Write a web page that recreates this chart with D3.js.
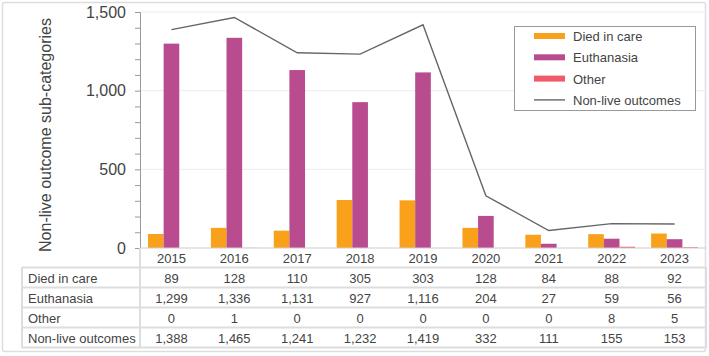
<!DOCTYPE html>
<html><head><meta charset="utf-8">
<script src="https://cdn.jsdelivr.net/npm/d3@7/dist/d3.min.js"></script>
<style>body{margin:0;background:#fff}svg text{font-family:"Liberation Sans",Arial,sans-serif !important}</style>
</head><body><svg id="c" width="709" height="356"></svg>
<script>
const years = ["2015","2016","2017","2018","2019","2020","2021","2022","2023"];
const diedInCare = [89,128,110,305,303,128,84,88,92];
const euthanasia = [1299,1336,1131,927,1116,204,27,59,56];
const other = [0,1,0,0,0,0,0,8,5];
const nonLive = [1388,1465,1241,1232,1419,332,111,155,153];
const yTicks = [0,500,1000,1500];
const seriesNames = ["Died in care","Euthanasia","Other"];
const colors = ["#F9A11B","#B84C8E","#EF5B6A"];
const lineColor = "#666666";
const FONT = "Liberation Sans, Arial, sans-serif";

const svg = d3.select("#c");
const fmt = d3.format(",");
svg.append("rect").attr("x",2.5).attr("y",2.5).attr("width",703).attr("height",349)
  .attr("fill","none").attr("stroke","#ddd").attr("stroke-width",1.5).attr("rx",2);

const x0 = 140, x1 = 706, yTop = 12, yBot = 248;
const x = d3.scaleBand().domain(years).range([x0,x1]).paddingInner(0).paddingOuter(0);
const inner = d3.scaleBand().domain(seriesNames).range([8, x.bandwidth()-8]).padding(0);
const y = d3.scaleLinear().domain([0,1500]).range([yBot,yTop]);

svg.append("g").selectAll("line").data(yTicks.filter(d=>d>0)).join("line")
  .attr("x1",x0).attr("x2",x1).attr("y1",d=>y(d)).attr("y2",d=>y(d))
  .attr("stroke","#ececec").attr("stroke-width",1);

const series = [diedInCare, euthanasia, other];
series.forEach((vals,i)=>{
  svg.append("g").selectAll("rect").data(vals).join("rect")
    .attr("x",(d,j)=>x(years[j])+inner(seriesNames[i]))
    .attr("width",inner.bandwidth())
    .attr("y",d=>y(d)).attr("height",d=>yBot-y(d))
    .attr("fill",colors[i]);
});

const line = d3.line().x((d,i)=>x(years[i])+x.bandwidth()/2).y(d=>y(d));
svg.append("path").datum(nonLive).attr("d",line).attr("fill","none")
  .attr("stroke",lineColor).attr("stroke-width",1.4);

const yAxis = d3.axisLeft(y).tickValues(d3.range(0,1501,100)).tickSize(5).tickFormat(d=> yTicks.includes(d)?fmt(d):"");
const ga = svg.append("g").attr("transform",`translate(${x0},0)`).call(yAxis);
ga.attr("font-family",FONT);
ga.select(".domain").attr("stroke","#999");
ga.selectAll(".tick line").attr("stroke","#999");
ga.selectAll(".tick text").attr("font-size",16).attr("fill","#444").attr("x",-14);
svg.append("line").attr("x1",x0).attr("x2",x1).attr("y1",yBot).attr("y2",yBot).attr("stroke","#ccc");

svg.append("text").attr("transform","translate(51,135) rotate(-90)").attr("text-anchor","middle")
  .attr("font-size",16).attr("fill","#444").text("Non-live outcome sub-categories");

const rowNames = ["Died in care","Euthanasia","Other","Non-live outcomes"];
const rowData = [diedInCare, euthanasia, other, nonLive];
const tLeft = 22, rowTop = 268, rowH = 20;
const tg = svg.append("g");
tg.selectAll("text.yr").data(years).join("text").attr("class","yr")
  .attr("x",d=>x(d)+x.bandwidth()/2).attr("y",263).attr("text-anchor","middle")
  .attr("font-size",13).attr("fill","#444").text(d=>d);
d3.range(0,5).forEach(k=>{
  tg.append("line").attr("x1",tLeft).attr("x2",x1).attr("y1",rowTop+k*rowH-0.5).attr("y2",rowTop+k*rowH-0.5)
    .attr("stroke","#ddd").attr("stroke-width",2);
});
tg.append("line").attr("x1",tLeft).attr("x2",tLeft).attr("y1",rowTop-1).attr("y2",rowTop+4*rowH).attr("stroke","#ddd").attr("stroke-width",2);
tg.append("line").attr("x1",x0).attr("x2",x0).attr("y1",yBot).attr("y2",rowTop+4*rowH).attr("stroke","#ddd").attr("stroke-width",2);
tg.append("line").attr("x1",x1).attr("x2",x1).attr("y1",rowTop-1).attr("y2",rowTop+4*rowH).attr("stroke","#ddd").attr("stroke-width",2);
rowNames.forEach((nm,r)=>{
  const cy = rowTop + r*rowH + 15;
  tg.append("text").attr("x",tLeft+6).attr("y",cy).attr("font-size",13).attr("fill","#444").text(nm);
  tg.append("g").selectAll("text").data(rowData[r]).join("text")
    .attr("x",(d,j)=>x(years[j])+x.bandwidth()/2).attr("y",cy).attr("text-anchor","middle")
    .attr("font-size",13).attr("fill","#444").text(d=>fmt(d));
});

const lg = svg.append("g");
lg.append("rect").attr("x",514.5).attr("y",26.5).attr("width",181).attr("height",84)
  .attr("fill","#fff").attr("stroke","#999");
const legItems = seriesNames.concat(["Non-live outcomes"]);
legItems.forEach((nm,i)=>{
  const cy = 36 + i*21.3;
  if(i<3) lg.append("rect").attr("x",534).attr("y",cy-3).attr("width",31).attr("height",6).attr("fill",colors[i]);
  else lg.append("line").attr("x1",534).attr("x2",565).attr("y1",cy).attr("y2",cy).attr("stroke",lineColor).attr("stroke-width",1.4);
  lg.append("text").attr("x",573).attr("y",cy+5).attr("font-size",13).attr("fill","#444").text(nm);
});
</script></body></html>
